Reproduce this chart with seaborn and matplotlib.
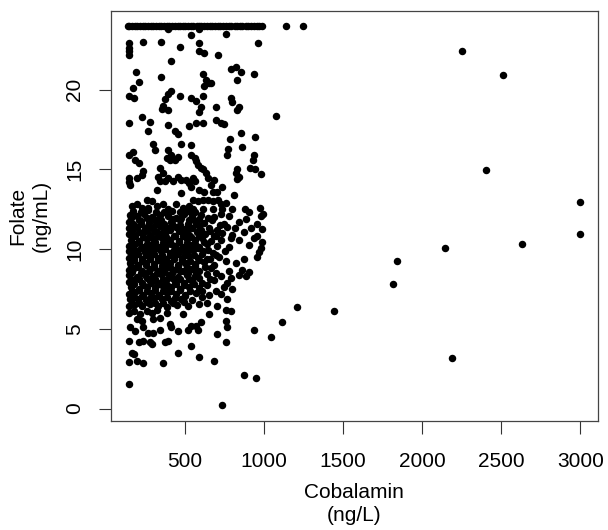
import pandas as pd
import matplotlib
matplotlib.use("Agg")
import matplotlib.pyplot as plt
import seaborn as sns

# Folate is capped at 24 ng/mL -> a flat row along the top
folate_cap = 24.0
capped_cobalamin = [140, 150, 165, 185, 200, 215, 235, 250, 270, 285, 300, 320, 335,
                    350, 370, 385, 400, 420, 440, 455, 470, 490, 505, 520, 540, 555,
                    575, 590, 605, 625, 640, 660, 675, 690, 710, 725, 745, 760, 780,
                    795, 815, 830, 850, 865, 885, 900, 920, 935, 955, 970, 990, 1143, 1247]

# upper part of the main cluster (folate 18-24)
upper_pts = [(393, 23.8), (593, 23.8), (541, 23.4), (759, 23.5),
             (235, 23.0), (349, 23.0), (145, 22.9), (145, 22.6), (145, 22.4), (145, 22.2),
             (468, 22.7), (416, 21.8), (193, 21.1), (208, 20.5), (348, 20.8), (173, 20.1),
             (145, 19.6), (181, 19.45), (416, 19.9), (395, 19.7), (374, 19.4), (364, 19.0),
             (354, 18.8), (395, 18.7), (472, 19.6), (541, 19.45),
             (593, 22.9), (963, 22.9), (588, 22.4), (624, 22.3), (713, 22.2), (791, 21.3),
             (822, 21.4), (857, 21.1), (936, 20.95), (613, 21.0), (832, 20.6), (635, 20.6),
             (651, 20.4), (666, 20.4), (624, 20.2), (572, 19.3), (613, 19.6), (603, 18.9),
             (697, 18.9), (791, 19.5), (801, 19.2), (842, 18.9), (593, 18.6)]

# middle part (folate 12.2-18.5)
mid_pts = [(229, 18.3), (281, 18.0), (145, 17.9), (395, 17.8), (437, 17.4), (457, 17.2),
           (270, 17.4), (530, 17.7), (301, 16.6), (312, 16.2), (479, 16.6), (541, 16.5),
           (173, 16.1), (145, 15.9), (187, 15.6), (208, 15.4), (395, 16.2), (416, 15.9),
           (385, 15.7), (406, 15.6), (437, 15.6), (457, 15.8), (541, 15.9),
           (239, 14.9), (229, 14.65), (198, 14.45), (145, 14.45), (145, 14.2), (156, 14.0),
           (343, 15.1), (364, 14.8), (333, 14.55), (343, 14.25), (374, 14.25), (395, 14.45),
           (426, 14.25), (457, 14.55), (479, 14.35), (510, 14.35), (530, 14.15), (541, 13.9),
           (323, 13.7), (479, 13.5), (260, 13.1), (291, 13.0), (167, 12.7), (198, 12.8),
           (229, 12.6), (270, 12.6), (323, 12.7), (364, 12.8), (395, 12.5), (447, 12.8),
           (489, 12.6), (530, 12.7), (551, 12.5),
           (572, 17.9), (613, 17.9), (697, 18.1), (728, 17.9), (749, 17.85), (832, 18.7),
           (853, 17.3), (947, 17.0), (784, 16.9), (859, 16.4), (776, 16.3), (770, 15.9),
           (936, 15.9), (930, 15.6), (562, 15.7), (572, 15.5), (582, 15.3), (603, 15.1),
           (613, 15.0), (915, 15.1), (947, 15.0), (984, 14.7), (832, 15.0), (822, 14.75),
           (842, 14.55), (832, 14.4), (551, 14.45), (562, 14.25), (635, 14.75), (645, 14.45),
           (686, 14.35), (666, 14.0), (738, 13.9), (593, 13.7), (624, 13.6), (676, 13.55),
           (707, 13.6), (811, 13.4), (551, 13.1), (582, 13.0), (613, 13.1), (645, 13.05),
           (676, 13.0), (713, 13.1), (728, 12.8), (759, 12.9), (613, 12.5), (676, 12.5),
           (738, 12.5), (801, 12.5), (884, 12.5), (905, 12.35), (978, 12.55), (995, 12.2)]

# dense core (folate 10-12.2)
core_upper = [(156, 12.15), (200, 12.05), (243, 12.2), (293, 12.0), (343, 12.15), (393, 12.1),
              (443, 11.95), (493, 12.2), (543, 12.05), (606, 12.15), (686, 12.0), (730, 12.2),
              (780, 12.1), (886, 11.9), (980, 12.1),
              (145, 11.7), (175, 11.6), (225, 11.75), (275, 11.65), (318, 11.8), (368, 11.6),
              (412, 11.7), (468, 11.8), (518, 11.6), (568, 11.75), (624, 11.65), (674, 11.8),
              (749, 11.6), (842, 11.7), (955, 11.55),
              (150, 11.3), (200, 11.4), (250, 11.25), (293, 11.35), (343, 11.45), (393, 11.3),
              (443, 11.4), (499, 11.25), (549, 11.35), (593, 11.45), (655, 11.3), (705, 11.2),
              (768, 11.4), (818, 11.3), (917, 11.35), (986, 11.25),
              (145, 10.95), (181, 10.85), (237, 11.0), (281, 10.9), (324, 11.05), (374, 10.95),
              (431, 10.85), (487, 11.0), (530, 10.9), (580, 11.05), (630, 10.95), (686, 10.85),
              (736, 11.0), (799, 10.9), (874, 11.05), (955, 10.85),
              (162, 10.6), (212, 10.5), (262, 10.65), (306, 10.55), (356, 10.7), (406, 10.6),
              (462, 10.5), (512, 10.65), (562, 10.55), (612, 10.7), (668, 10.5), (730, 10.6),
              (842, 10.55), (936, 10.7), (986, 10.45),
              (145, 10.2), (187, 10.3), (237, 10.15), (287, 10.25), (337, 10.1), (387, 10.3),
              (437, 10.2), (487, 10.1), (543, 10.25), (593, 10.15), (643, 10.3), (705, 10.2),
              (780, 10.1), (905, 10.25), (980, 10.05)]

# dense core (folate 6.3-10)
core_lower = [(150, 9.85), (200, 9.9), (250, 9.8), (300, 9.95), (349, 9.85), (406, 9.75),
              (455, 9.9), (505, 9.8), (555, 9.95), (618, 9.85), (680, 9.75), (755, 9.9), (967, 9.8),
              (145, 9.45), (181, 9.5), (231, 9.4), (281, 9.55), (331, 9.45), (381, 9.35),
              (431, 9.5), (480, 9.4), (530, 9.55), (587, 9.45), (643, 9.35), (718, 9.5),
              (874, 9.4), (955, 9.5),
              (156, 9.1), (206, 9.0), (256, 9.15), (306, 9.05), (356, 9.2), (406, 9.1),
              (455, 9.0), (505, 9.15), (562, 9.05), (624, 9.2), (686, 9.0), (824, 9.1),
              (145, 8.7), (181, 8.8), (231, 8.65), (281, 8.75), (331, 8.6), (381, 8.8),
              (431, 8.7), (487, 8.6), (543, 8.75), (593, 8.65), (668, 8.8), (780, 8.6),
              (861, 8.7), (905, 8.55),
              (150, 8.35), (200, 8.25), (250, 8.4), (300, 8.3), (349, 8.45), (399, 8.35),
              (455, 8.25), (512, 8.4), (568, 8.3), (643, 8.45), (730, 8.3), (793, 8.2),
              (842, 8.4), (886, 8.3),
              (145, 7.95), (181, 8.05), (231, 7.9), (281, 8.0), (331, 7.85), (381, 8.05),
              (437, 7.95), (493, 7.85), (549, 8.0), (612, 7.9), (686, 8.05), (768, 7.9),
              (162, 7.6), (212, 7.5), (262, 7.65), (312, 7.55), (362, 7.7), (412, 7.6),
              (468, 7.5), (530, 7.65), (593, 7.55), (749, 7.6), (799, 7.5),
              (145, 7.2), (187, 7.3), (237, 7.15), (287, 7.25), (337, 7.1), (387, 7.3),
              (443, 7.2), (505, 7.1), (574, 7.25), (655, 7.15), (730, 7.2),
              (156, 6.85), (206, 6.9), (256, 6.8), (306, 6.95), (356, 6.85), (412, 6.75),
              (474, 6.9), (543, 6.8), (768, 6.85),
              (145, 6.45), (181, 6.5), (231, 6.4), (281, 6.55), (331, 6.45), (387, 6.35),
              (449, 6.5), (518, 6.4), (593, 6.55), (705, 6.4)]

# extra points that close the gaps inside the black core
core_fill = [(172, 12.4), (222, 12.3), (268, 12.45), (318, 12.35), (368, 12.3), (418, 12.4),
             (468, 12.3), (520, 12.4), (568, 12.3),
             (160, 11.95), (212, 11.85), (262, 11.95), (305, 11.9), (352, 11.85), (428, 11.9),
             (478, 11.95), (530, 11.85), (590, 11.9), (650, 11.95),
             (174, 11.5), (225, 11.55), (270, 11.45), (320, 11.55), (368, 11.45), (418, 11.55),
             (470, 11.5), (522, 11.45), (572, 11.55), (720, 11.5),
             (165, 11.15), (212, 11.1), (262, 11.2), (310, 11.15), (360, 11.1), (408, 11.2),
             (462, 11.15), (512, 11.1), (606, 11.2), (660, 11.15),
             (188, 10.8), (238, 10.75), (285, 10.85), (332, 10.8), (382, 10.75), (436, 10.85),
             (488, 10.8), (538, 10.75), (590, 10.85), (700, 10.8), (790, 10.7),
             (168, 10.4), (212, 10.45), (262, 10.35), (312, 10.45), (362, 10.4), (412, 10.35),
             (462, 10.45), (515, 10.4), (568, 10.35), (620, 10.45),
             (175, 10.0), (225, 10.05), (275, 9.95), (325, 10.05), (378, 10.0), (430, 9.95),
             (480, 10.05), (530, 10.0), (585, 10.05), (650, 9.95),
             (165, 9.65), (206, 9.7), (256, 9.6), (306, 9.7), (356, 9.65), (405, 9.6),
             (456, 9.7), (505, 9.65), (560, 9.6), (612, 9.7), (700, 9.65),
             (180, 9.3), (231, 9.25), (281, 9.35), (331, 9.3), (381, 9.25), (431, 9.35),
             (480, 9.3), (533, 9.25), (590, 9.3), (660, 9.35), (760, 9.25),
             (162, 8.95), (206, 8.9), (256, 9.0), (306, 8.9), (356, 8.95), (406, 8.85),
             (457, 8.95), (512, 8.9), (565, 8.95), (630, 8.9),
             (170, 8.55), (225, 8.5), (275, 8.6), (322, 8.5), (372, 8.55), (420, 8.5),
             (470, 8.6), (520, 8.5), (570, 8.55), (700, 8.5),
             (162, 8.15), (212, 8.1), (262, 8.2), (312, 8.15), (362, 8.1), (418, 8.2),
             (470, 8.1), (525, 8.15), (590, 8.2), (660, 8.15),
             (182, 7.8), (237, 7.75), (287, 7.85), (337, 7.8), (390, 7.75), (442, 7.8),
             (498, 7.75), (560, 7.8), (640, 7.75),
             (165, 7.4), (212, 7.45), (262, 7.35), (312, 7.45), (362, 7.4), (415, 7.35),
             (470, 7.45), (535, 7.4), (610, 7.35), (700, 7.4),
             (180, 7.0), (231, 7.05), (281, 6.95), (331, 7.05), (385, 7.0), (440, 6.95),
             (505, 7.05), (610, 7.0),
             (165, 6.65), (212, 6.6), (262, 6.7), (312, 6.6), (365, 6.65), (425, 6.6),
             (495, 6.7), (640, 6.65)]

# lower tail of the cluster (folate < 6.3)
low_pts = [(145, 6.0), (177, 6.1), (218, 5.9), (260, 6.1), (291, 6.0), (322, 6.2), (385, 6.0),
           (489, 5.9), (197, 5.6), (229, 5.5), (302, 5.6), (343, 5.7),
           (156, 5.1), (187, 4.85), (239, 5.1), (270, 4.75), (302, 4.75), (343, 4.95),
           (406, 5.3), (416, 5.1), (457, 4.85), (520, 4.95), (541, 5.2),
           (145, 4.25), (208, 4.15), (239, 4.25), (281, 4.15), (291, 4.05), (374, 4.15),
           (395, 4.25), (541, 3.95), (166, 3.5), (177, 3.4), (457, 3.5),
           (145, 2.9), (197, 3.0), (239, 2.85), (364, 2.85), (145, 1.55),
           (651, 5.9), (759, 6.2), (790, 6.1), (603, 5.4), (572, 5.2), (582, 4.95),
           (759, 5.5), (770, 5.1), (707, 4.7), (936, 4.9), (763, 4.15), (593, 3.25),
           (682, 3.0), (874, 2.1), (950, 1.9), (734, 0.2)]

# isolated high-cobalamin values
outlier_pts = [(1080, 18.36), (1117, 5.45), (1048, 4.51), (1210, 6.36), (1441, 6.14),
               (1815, 7.84), (1841, 9.24), (2146, 10.07), (2190, 3.14), (2253, 22.4),
               (2405, 14.97), (2514, 20.9), (2632, 10.34), (3000, 12.95), (3000, 10.97)]

pts = ([(c, folate_cap) for c in capped_cobalamin] + upper_pts + mid_pts +
       core_upper + core_lower + core_fill + low_pts + outlier_pts)
df = pd.DataFrame(pts, columns=["Cobalamin", "Folate"])

sns.set_style("ticks")
plt.rcParams["font.family"] = ["Liberation Sans", "DejaVu Sans"]
plt.rcParams["text.color"] = "black"
plt.rcParams["xtick.labelcolor"] = "black"
plt.rcParams["ytick.labelcolor"] = "black"

fig = plt.figure(figsize=(6.08, 5.30), dpi=100)
ax = fig.add_axes([110.5 / 608, 1 - 420.5 / 530, 487.8 / 608, 409.8 / 530])

sns.scatterplot(data=df, x="Cobalamin", y="Folate", color="black", s=29,
                linewidth=0, ax=ax)

ax.set_xlim(31, 3114)
ax.set_ylim(-0.75, 24.95)
ax.set_xticks([500, 1000, 1500, 2000, 2500, 3000])
ax.set_yticks([0, 5, 10, 15, 20])
ax.tick_params(axis="both", labelsize=15, length=9, width=0.8, color="#333333",
               labelcolor="black")
ax.tick_params(axis="x", pad=14)
ax.tick_params(axis="y", pad=10)
for lab in ax.get_yticklabels():
    lab.set_rotation(90)
    lab.set_va("center")
for sp in ax.spines.values():
    sp.set_visible(True)
    sp.set_color("#444444")
    sp.set_linewidth(0.9)

ax.set_xlabel("")
ax.set_ylabel("")
fig.text(354.4 / 608, 1 - 504 / 530, "Cobalamin\n(ng/L)", ha="center", va="center",
         fontsize=15, linespacing=1.3, color="black")
fig.text(29.5 / 608, 1 - 215.6 / 530, "Folate\n(ng/mL)", ha="center", va="center",
         rotation=90, fontsize=15, linespacing=1.3, color="black")

fig.savefig("out.png", dpi=100)
